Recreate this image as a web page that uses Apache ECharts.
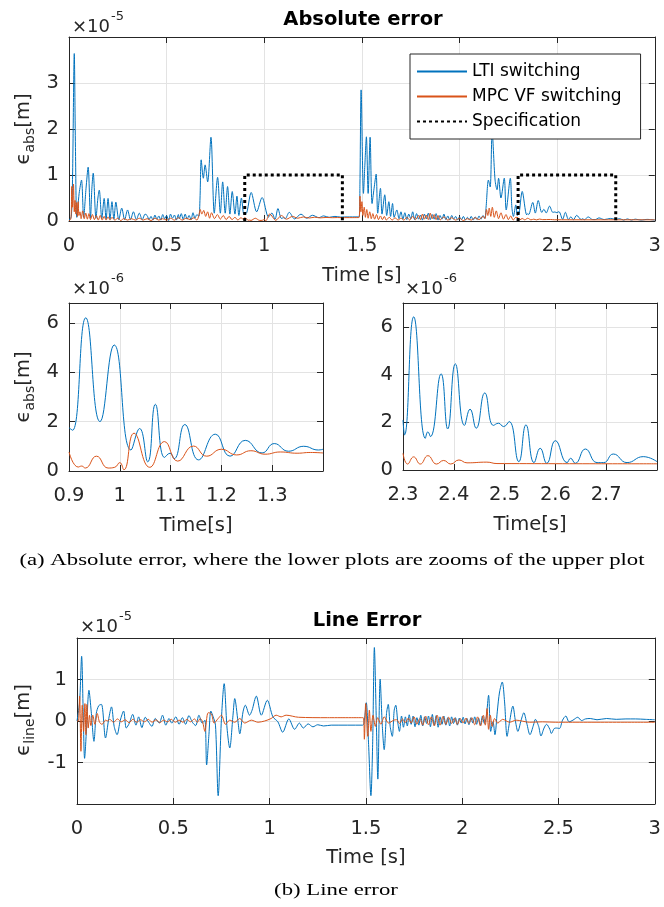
<!DOCTYPE html>
<html>
<head>
<meta charset="utf-8">
<script src="https://cdn.jsdelivr.net/npm/echarts@6/dist/echarts.min.js"></script>
<style>
  html, body { margin: 0; padding: 0; background: #fff; }
  #chart { width: 664px; height: 907px; }
</style>
</head>
<body>
<div id="chart"></div>
<script>
// ---- data ----
// absolute error, x1e-5 m
const ltiAbsA = [[0,0.02],[0.012,0.1],[0.018,0.9],[0.027,3.64],[0.033,1.6],[0.04,0.08],[0.052,0.6],[0.064,0.89],[0.075,0.08],[0.087,0.7],[0.098,1.17],[0.11,0.06],[0.117,0.7],[0.124,1.04],[0.138,0.06],[0.148,0.5],[0.155,0.67],[0.168,0.05],[0.18,0.49],[0.19,0.04],[0.2,0.49],[0.21,0.04],[0.22,0.42],[0.23,0.04],[0.24,0.41],[0.255,0.03],[0.27,0.28],[0.285,0.03],[0.3,0.24],[0.315,0.03],[0.33,0.2],[0.345,0.03],[0.36,0.17],[0.375,0.03],[0.39,0.15],[0.40,0.12],[0.41,0.03],[0.42,0.1],[0.43,0.02],[0.44,0.13],[0.45,0.04],[0.46,0.11],[0.47,0.02],[0.48,0.14],[0.49,0.05],[0.50,0.12],[0.51,0.01],[0.52,0.15],[0.53,0.06],[0.54,0.13],[0.55,0.02],[0.56,0.14],[0.565,0.05],[0.575,0.16],[0.585,0.03],[0.595,0.15],[0.605,0.04],[0.615,0.12],[0.625,0.03],[0.635,0.18],[0.645,0.06],[0.655,0.14],[0.665,0.1],[0.671,0.5],[0.677,1.33],[0.688,0.93],[0.697,1.22],[0.71,0.85],[0.727,1.82],[0.744,0.17],[0.761,0.95],[0.775,0.17],[0.787,0.85],[0.8,0.17],[0.812,0.75],[0.824,0.15],[0.836,0.64],[0.85,0.15],[0.86,0.54],[0.87,0.12],[0.883,0.5],[0.895,0.15]];
const ltiAbsB = [[1.4,0.088],[1.486,0.09],[1.49,0.8],[1.496,2.85],[1.508,0.6],[1.515,1.2],[1.523,1.83],[1.532,0.6],[1.542,1.82],[1.552,0.38],[1.562,0.7],[1.573,1.02],[1.581,0.17],[1.595,0.71],[1.603,0.15],[1.617,0.57],[1.627,0.12],[1.638,0.42],[1.647,0.1],[1.657,0.38],[1.665,0.08],[1.679,0.24],[1.69,0.05],[1.70,0.2],[1.71,0.04],[1.72,0.18],[1.73,0.03],[1.74,0.15],[1.75,0.05],[1.76,0.2],[1.77,0.03],[1.78,0.16],[1.79,0.04],[1.80,0.13],[1.81,0.02],[1.82,0.15],[1.83,0.05],[1.84,0.17],[1.85,0.03],[1.86,0.14],[1.87,0.04],[1.88,0.16],[1.89,0.02],[1.9,0.12],[1.91,0.04],[1.92,0.15],[1.93,0.03],[1.94,0.11],[1.95,0.02],[1.96,0.12],[1.97,0.04],[1.98,0.1],[1.99,0.02],[2.0,0.09],[2.01,0.03],[2.02,0.1],[2.03,0.02],[2.04,0.08],[2.05,0.03],[2.06,0.1],[2.07,0.02],[2.08,0.09],[2.09,0.03],[2.1,0.11],[2.11,0.04],[2.12,0.12],[2.13,0.06],[2.136,0.3],[2.148,0.89],[2.157,0.74],[2.167,1.94],[2.182,0.89],[2.192,0.68],[2.2,0.93],[2.212,0.5],[2.229,0.93],[2.239,0.24],[2.26,0.93],[2.268,0.3],[2.276,0.1],[2.288,0.35],[2.296,0.12]];
const ltiAbsC = [[2.8,0.035],[2.82,0.05],[2.84,0.02],[2.86,0.045],[2.88,0.02],[2.9,0.04],[2.93,0.02],[2.96,0.035],[3.0,0.02]];
const mpcAbsA = [[0,0],[0.01,0.05],[0.014,0.75],[0.018,0.3],[0.023,0.8],[0.027,0.2],[0.031,0.45],[0.035,0.15],[0.039,0.4],[0.043,0.1],[0.047,0.42],[0.051,0.12],[0.056,0.2],[0.062,0.05],[0.07,0.22],[0.078,0.05],[0.086,0.17],[0.094,0.04],[0.102,0.16],[0.11,0.03],[0.12,0.14],[0.13,0.03],[0.14,0.12],[0.15,0.02],[0.16,0.12],[0.17,0.02],[0.18,0.1],[0.19,0.02],[0.2,0.09],[0.21,0.02],[0.22,0.08],[0.235,0.02],[0.25,0.06],[0.265,0.01],[0.28,0.05],[0.3,0.02],[0.32,0.05],[0.34,0.02],[0.36,0.06],[0.38,0.02],[0.4,0.05],[0.42,0.01],[0.44,0.06],[0.46,0.02],[0.48,0.05],[0.5,0.02],[0.52,0.06],[0.54,0.02],[0.56,0.07],[0.58,0.02],[0.6,0.06],[0.62,0.03],[0.64,0.07],[0.655,0.02],[0.665,0.12],[0.672,0.25],[0.68,0.15],[0.69,0.23],[0.7,0.1],[0.71,0.2],[0.72,0.06],[0.73,0.18],[0.745,0.05],[0.76,0.14],[0.775,0.04],[0.79,0.12],[0.805,0.03],[0.82,0.1],[0.835,0.03],[0.85,0.08],[0.865,0.02],[0.88,0.07],[0.895,0.03]];
const mpcAbsB = [[1.4,0.073],[1.485,0.075],[1.49,0.54],[1.495,0.2],[1.5,0.42],[1.505,0.12],[1.512,0.3],[1.518,0.08],[1.525,0.25],[1.532,0.06],[1.54,0.2],[1.548,0.05],[1.556,0.16],[1.565,0.04],[1.575,0.14],[1.585,0.03],[1.595,0.11],[1.605,0.03],[1.615,0.1],[1.625,0.02],[1.64,0.08],[1.655,0.02],[1.67,0.07],[1.685,0.02],[1.70,0.06],[1.715,0.02],[1.73,0.08],[1.745,0.02],[1.76,0.1],[1.775,0.03],[1.79,0.12],[1.8,0.03],[1.81,0.15],[1.82,0.04],[1.83,0.13],[1.84,0.03],[1.85,0.17],[1.86,0.05],[1.87,0.14],[1.88,0.03],[1.89,0.12],[1.9,0.02],[1.92,0.09],[1.94,0.02],[1.96,0.07],[1.98,0.02],[2.0,0.06],[2.02,0.01],[2.04,0.05],[2.06,0.02],[2.08,0.07],[2.1,0.03],[2.12,0.1],[2.13,0.05],[2.138,0.25],[2.145,0.12],[2.152,0.28],[2.16,0.1],[2.168,0.3],[2.178,0.08],[2.188,0.22],[2.2,0.05],[2.212,0.18],[2.225,0.04],[2.238,0.14],[2.25,0.03],[2.262,0.11],[2.275,0.02],[2.288,0.08]];
const mpcAbsC = [[2.8,0.026],[3.0,0.026]];

// zoomed windows, x1e-6 m
const ltiZoomA = [[0.9,1.75],[0.907,1.65],[0.933,6.2],[0.961,2.0],[0.989,5.1],[1.022,0.85],[1.039,1.72],[1.055,0.37],[1.07,2.7],[1.088,0.55],[1.099,0.72],[1.107,0.5],[1.128,1.88],[1.155,0.45],[1.188,1.49],[1.217,0.6],[1.247,1.24],[1.28,0.73],[1.304,1.11],[1.332,0.8],[1.362,1.0],[1.391,0.85],[1.4,0.88]];
const mpcZoomA = [[0.9,0.77],[0.918,0.16],[0.925,0.2],[0.932,0.12],[0.954,0.6],[0.977,0.12],[0.99,0.15],[1.0,0.34],[1.008,0.05],[1.028,1.53],[1.059,0.15],[1.088,1.19],[1.114,0.4],[1.145,1.01],[1.171,0.6],[1.2,0.88],[1.23,0.65],[1.258,0.82],[1.286,0.68],[1.316,0.77],[1.349,0.72],[1.375,0.75],[1.4,0.73]];
const ltiZoomB = [[2.3,2.1],[2.303,1.47],[2.321,6.42],[2.344,1.33],[2.349,1.6],[2.354,1.4],[2.375,4.03],[2.388,1.72],[2.403,4.45],[2.421,1.87],[2.432,2.55],[2.444,1.75],[2.461,3.23],[2.478,1.87],[2.488,1.96],[2.498,1.82],[2.509,2.03],[2.528,0.35],[2.542,1.89],[2.558,0.31],[2.57,0.91],[2.583,0.28],[2.6,1.23],[2.623,0.31],[2.63,0.49],[2.639,0.28],[2.659,0.88],[2.682,0.31],[2.695,0.31],[2.714,0.67],[2.741,0.31],[2.773,0.56],[2.8,0.35]];
const mpcZoomB = [[2.3,0.7],[2.309,0.25],[2.321,0.55],[2.334,0.25],[2.349,0.6],[2.366,0.25],[2.38,0.4],[2.394,0.25],[2.41,0.42],[2.426,0.3],[2.465,0.33],[2.485,0.27],[2.8,0.26]];

// specification windows (x1e-5 m)
const specWindows = [[0.9, 1.4], [2.3, 2.8]];
const specLevel = 1;

// line error, x1e-5 m
const ltiLine = [[0,0],[0.0136,0.46],[0.024,1.56],[0.0325,0.14],[0.0394,-0.9],[0.0497,-0.17],[0.062,0.74],[0.074,0.22],[0.088,-0.49],[0.1,0.18],[0.113,0.37],[0.127,0.4],[0.148,-0.41],[0.165,0.06],[0.179,0.34],[0.193,-0.13],[0.208,-0.33],[0.225,0.02],[0.242,0.24],[0.256,-0.17],[0.272,-0.05],[0.289,0.16],[0.306,-0.1],[0.32,0.1],[0.337,-0.16],[0.354,0.09],[0.372,-0.03],[0.389,-0.13],[0.406,0.06],[0.427,-0.05],[0.444,0.14],[0.461,-0.1],[0.478,0.06],[0.492,-0.05],[0.513,0.1],[0.53,-0.08],[0.547,0.08],[0.564,-0.08],[0.581,0.13],[0.599,-0.03],[0.616,-0.11],[0.633,0.14],[0.65,-0.05],[0.664,0.02],[0.673,-1.06],[0.685,-0.33],[0.695,0.24],[0.707,0.1],[0.719,-0.1],[0.733,-1.8],[0.75,0.06],[0.764,0.9],[0.779,-0.17],[0.793,-0.65],[0.81,0.14],[0.819,0.54],[0.836,-0.02],[0.845,-0.31],[0.862,0.22],[0.874,0.38],[0.896,0.14],[0.909,0.26],[0.931,0.6],[0.957,0.14],[0.988,0.5],[1.017,0.1],[1.043,-0.02],[1.068,-0.27],[1.1,0.05],[1.13,-0.2],[1.155,-0.05],[1.175,-0.17],[1.2,-0.07],[1.225,-0.14],[1.25,-0.09],[1.28,-0.12],[1.32,-0.1],[1.483,-0.1],[1.492,0.02],[1.502,0.44],[1.514,-0.57],[1.526,-1.8],[1.535,-0.57],[1.544,1.77],[1.554,0.02],[1.562,-1.4],[1.574,1.01],[1.585,-0.1],[1.595,-0.69],[1.607,0.18],[1.616,0.4],[1.626,-0.13],[1.637,-0.37],[1.647,0.26],[1.655,0.38],[1.666,-0.05],[1.674,-0.25],[1.685,0.12],[1.695,-0.15],[1.705,0.1],[1.715,-0.12],[1.725,0.15],[1.735,-0.08],[1.745,0.12],[1.755,-0.14],[1.765,0.08],[1.775,-0.1],[1.785,0.14],[1.795,-0.12],[1.805,0.1],[1.815,-0.06],[1.825,0.12],[1.835,-0.14],[1.845,0.16],[1.855,-0.1],[1.865,0.13],[1.875,-0.15],[1.885,0.1],[1.895,-0.08],[1.905,0.12],[1.915,-0.1],[1.925,0.08],[1.935,-0.12],[1.945,0.1],[1.955,-0.06],[1.965,0.08],[1.975,-0.1],[1.985,0.07],[1.995,-0.05],[2.005,0.09],[2.015,-0.07],[2.025,0.06],[2.035,-0.09],[2.045,0.08],[2.055,-0.05],[2.065,0.1],[2.075,-0.08],[2.085,0.07],[2.095,-0.1],[2.105,0.12],[2.115,-0.06],[2.125,0.1],[2.137,0.62],[2.148,-0.25],[2.16,-0.02],[2.17,-0.33],[2.182,0.22],[2.194,0.7],[2.208,0.94],[2.22,0.46],[2.233,-0.37],[2.246,-0.02],[2.263,0.36],[2.277,-0.02],[2.289,-0.25],[2.306,0.02],[2.32,0.2],[2.335,-0.05],[2.352,-0.33],[2.37,-0.1],[2.38,0.04],[2.397,-0.13],[2.409,-0.36],[2.425,-0.17],[2.438,-0.08],[2.455,-0.2],[2.463,-0.3],[2.478,-0.18],[2.49,-0.17],[2.505,-0.18],[2.521,0.02],[2.538,0.12],[2.555,-0.02],[2.575,0.02],[2.6,0.09],[2.62,0.01],[2.64,0.05],[2.665,0.06],[2.7,0.03],[2.75,0.06],[2.8,0.04],[2.85,0.05],[2.9,0.05],[2.95,0.04],[3.0,0.03]];
const mpcLine = [[0,0],[0.007,0],[0.0136,0.6],[0.0205,-0.73],[0.0273,0.38],[0.0342,-0.25],[0.0411,0.42],[0.0463,-0.33],[0.0514,0.4],[0.0583,-0.17],[0.065,0.14],[0.072,-0.11],[0.082,0.14],[0.093,-0.08],[0.105,0.18],[0.117,-0.03],[0.13,-0.08],[0.148,0.02],[0.16,0],[0.17,0.04],[0.19,-0.03],[0.21,0.05],[0.23,-0.02],[0.25,0.03],[0.27,-0.04],[0.29,0.04],[0.31,-0.03],[0.33,0.03],[0.35,-0.02],[0.37,0.04],[0.39,-0.03],[0.41,0.03],[0.43,-0.04],[0.45,0.02],[0.47,-0.02],[0.49,0.04],[0.51,-0.03],[0.53,0.02],[0.55,-0.03],[0.57,0.04],[0.59,-0.02],[0.61,0.05],[0.625,-0.03],[0.64,0.06],[0.652,-0.02],[0.664,-0.25],[0.681,0.2],[0.698,0.17],[0.712,-0.05],[0.733,0.06],[0.75,0.14],[0.771,-0.08],[0.793,0.02],[0.819,-0.03],[0.845,0.06],[0.871,-0.05],[0.905,0.02],[0.94,-0.03],[0.974,0],[1.008,0.06],[1.034,0.14],[1.06,0.1],[1.086,0.14],[1.15,0.09],[1.3,0.08],[1.486,0.08],[1.492,-0.44],[1.499,0.42],[1.51,-0.37],[1.518,0.26],[1.526,-0.25],[1.537,0.14],[1.549,-0.13],[1.561,0.08],[1.578,-0.08],[1.595,0.1],[1.618,-0.05],[1.644,0.02],[1.66,0.03],[1.675,-0.06],[1.69,0.05],[1.705,-0.04],[1.72,0.07],[1.735,-0.05],[1.75,0.1],[1.765,-0.08],[1.78,0.06],[1.795,-0.1],[1.81,0.12],[1.825,-0.09],[1.84,0.1],[1.855,-0.12],[1.87,0.14],[1.885,-0.1],[1.9,0.11],[1.915,-0.08],[1.93,0.09],[1.945,-0.06],[1.96,0.07],[1.975,-0.08],[1.99,0.06],[2.005,-0.05],[2.02,0.07],[2.035,-0.06],[2.05,0.08],[2.065,-0.09],[2.08,0.1],[2.095,-0.12],[2.11,0.14],[2.12,-0.1],[2.129,0.3],[2.137,-0.2],[2.146,0.14],[2.156,-0.13],[2.168,0.06],[2.185,-0.05],[2.21,0.04],[2.246,-0.03],[2.28,0.02],[2.349,-0.03],[2.417,-0.02],[2.486,-0.03],[3.0,-0.03]];

const names = ['LTI switching', 'MPC VF switching', 'Specification'];
const colors = ['#0072BD', '#D95319', '#000000'];

// ---- build ----
const toE5 = arr => arr.map(p => [p[0], p[1] / 10]);
const ltiAbs = ltiAbsA.concat(toE5(ltiZoomA), ltiAbsB, toE5(ltiZoomB), ltiAbsC);
const mpcAbs = mpcAbsA.concat(toE5(mpcZoomA), mpcAbsB, toE5(mpcZoomB), mpcAbsC);

const FONT = 'DejaVu Sans';
const TXT = '#262626';
const grids = [
  { left: 69, top: 37, width: 588, height: 184 },
  { left: 69, top: 303, width: 254, height: 168 },
  { left: 403, top: 303, width: 254, height: 167 },
  { left: 77, top: 638, width: 581, height: 166 }
];
const xCfg = [
  { min: 0, max: 3, interval: 0.5, name: 'Time [s]', gap: 45 },
  { min: 0.9, max: 1.4, interval: 0.1, name: 'Time[s]', gap: 45 },
  { min: 2.3, max: 2.8, interval: 0.1, name: 'Time[s]', gap: 45 },
  { min: 0, max: 3, interval: 0.5, name: 'Time [s]', gap: 44 }
];
const yCfg = [
  { min: 0, max: 4, interval: 1 },
  { min: 0, max: 6.8, interval: 2 },
  { min: 0, max: 7, interval: 2 },
  { min: -2, max: 2, interval: 1 }
];

const xAxis = [], yAxis = [];
grids.forEach((g, i) => {
  const c = xCfg[i];
  const base = {
    gridIndex: i, type: 'value', min: c.min, max: c.max, interval: c.interval,
    axisLine: { show: true, onZero: false, lineStyle: { color: TXT, width: 1 } },
    axisTick: { show: true, inside: true, length: 6, lineStyle: { color: TXT } }
  };
  xAxis.push(Object.assign({}, base, {
    position: 'bottom',
    name: c.name, nameLocation: 'middle', nameGap: c.gap,
    nameTextStyle: { fontFamily: FONT, fontSize: 19.5, color: TXT },
    axisLabel: { fontFamily: FONT, fontSize: 19.5, color: TXT, margin: 15, showMaxLabel: i === 0 || i === 3 },
    splitLine: { show: true, lineStyle: { color: '#e3e3e3', width: 1 } }
  }));
  xAxis.push(Object.assign({}, base, { position: 'top', axisLabel: { show: false }, splitLine: { show: false } }));

  const yc = yCfg[i];
  const ybase = {
    gridIndex: i, type: 'value', min: yc.min, max: yc.max, interval: yc.interval,
    axisLine: { show: true, onZero: false, lineStyle: { color: TXT, width: 1 } },
    axisTick: { show: true, inside: true, length: 6, lineStyle: { color: TXT } }
  };
  yAxis.push(Object.assign({}, ybase, {
    position: 'left',
    axisLabel: {
      fontFamily: FONT, fontSize: 19.5, color: TXT, margin: 10,
      showMaxLabel: false, showMinLabel: i !== 3
    },
    splitLine: { show: true, lineStyle: { color: '#e3e3e3', width: 1 } }
  }));
  yAxis.push(Object.assign({}, ybase, { position: 'right', axisLabel: { show: false }, splitLine: { show: false } }));
});

function line(name, data, ax, color, smooth) {
  return {
    name: name, type: 'line', data: data, xAxisIndex: ax, yAxisIndex: ax,
    showSymbol: false, symbol: 'none', smooth: smooth, animation: false,
    lineStyle: { color: color, width: 1 }, itemStyle: { color: color }
  };
}

const series = [
  line(names[0], ltiAbs, 0, colors[0], 0.3),
  line(names[1], mpcAbs, 0, colors[1], 0.3)
];
specWindows.forEach(w => {
  series.push({
    name: names[2], type: 'line', xAxisIndex: 0, yAxisIndex: 0,
    data: [[w[0], 0], [w[0], specLevel], [w[1], specLevel], [w[1], 0]],
    showSymbol: false, symbol: 'none', animation: false,
    lineStyle: { color: '#000', width: 3, type: [3, 3], cap: 'butt' },
    itemStyle: { color: '#000' }
  });
});
series.push(line(names[0], ltiZoomA, 2, colors[0], 0.5));
series.push(line(names[1], mpcZoomA, 2, colors[1], 0.5));
series.push(line(names[0], ltiZoomB, 4, colors[0], 0.5));
series.push(line(names[1], mpcZoomB, 4, colors[1], 0.5));
series.push(line(names[0], ltiLine, 6, colors[0], 0.3));
series.push(line(names[1], mpcLine, 6, colors[1], 0.3));

function expo(x, y, p) {
  return [
    { type: 'text', x: x, y: y, style: { text: '×10', fontFamily: FONT, fontSize: 18, fill: TXT, align: 'left', verticalAlign: 'middle' } },
    { type: 'text', x: x + 39, y: y - 10, style: { text: p, fontFamily: FONT, fontSize: 13, fill: TXT, align: 'left', verticalAlign: 'middle' } }
  ];
}
function ylab(x, y, sub) {
  return {
    type: 'text', x: x, y: y, rotation: Math.PI / 2,
    style: {
      text: '{e|ϵ}{s|' + sub + '}{m|[m]}', align: 'center', verticalAlign: 'middle', fill: TXT,
      rich: {
        e: { fontFamily: FONT, fontSize: 19.5, lineHeight: 26, verticalAlign: 'middle', fill: TXT },
        s: { fontFamily: FONT, fontSize: 14, lineHeight: 26, verticalAlign: 'bottom', fill: TXT },
        m: { fontFamily: FONT, fontSize: 19.5, lineHeight: 26, verticalAlign: 'middle', fill: TXT }
      }
    }
  };
}

const graphic = [
  { type: 'text', x: 363, y: 20, style: { text: 'Absolute error', fontFamily: FONT, fontWeight: 'bold', fontSize: 19.5, fill: '#000', align: 'center', verticalAlign: 'middle' } },
  { type: 'text', x: 367, y: 621, style: { text: 'Line Error', fontFamily: FONT, fontWeight: 'bold', fontSize: 19.5, fill: '#000', align: 'center', verticalAlign: 'middle' } },
  ylab(24, 129, 'abs'),
  ylab(24, 387, 'abs'),
  ylab(24, 720, 'line'),
  { type: 'text', x: 332, y: 560, scaleX: 1.3, style: { text: '(a) Absolute error, where the lower plots are zooms of the upper plot', fontFamily: 'Liberation Serif', fontSize: 17.5, fill: '#000', align: 'center', verticalAlign: 'middle' } },
  { type: 'text', x: 336, y: 890, scaleX: 1.3, style: { text: '(b) Line error', fontFamily: 'Liberation Serif', fontSize: 17.5, fill: '#000', align: 'center', verticalAlign: 'middle' } }
].concat(expo(72, 27, '-5'), expo(72, 289, '-6'), expo(405, 289, '-6'), expo(80, 627, '-5'));

const chart = echarts.init(document.getElementById('chart'), null, { renderer: 'canvas' });
chart.setOption({
  animation: false,
  backgroundColor: '#fff',
  grid: grids,
  xAxis: xAxis,
  yAxis: yAxis,
  legend: {
    data: names, orient: 'vertical', left: 410, top: 54,
    itemWidth: 50, itemHeight: 14, itemGap: 8,
    padding: [9, 19, 9, 6],
    itemStyle: { opacity: 0 },
    backgroundColor: '#fff', borderColor: TXT, borderWidth: 1,
    textStyle: { fontFamily: FONT, fontSize: 17, color: '#000' }
  },
  series: series,
  graphic: graphic
});
</script>
</body>
</html>
